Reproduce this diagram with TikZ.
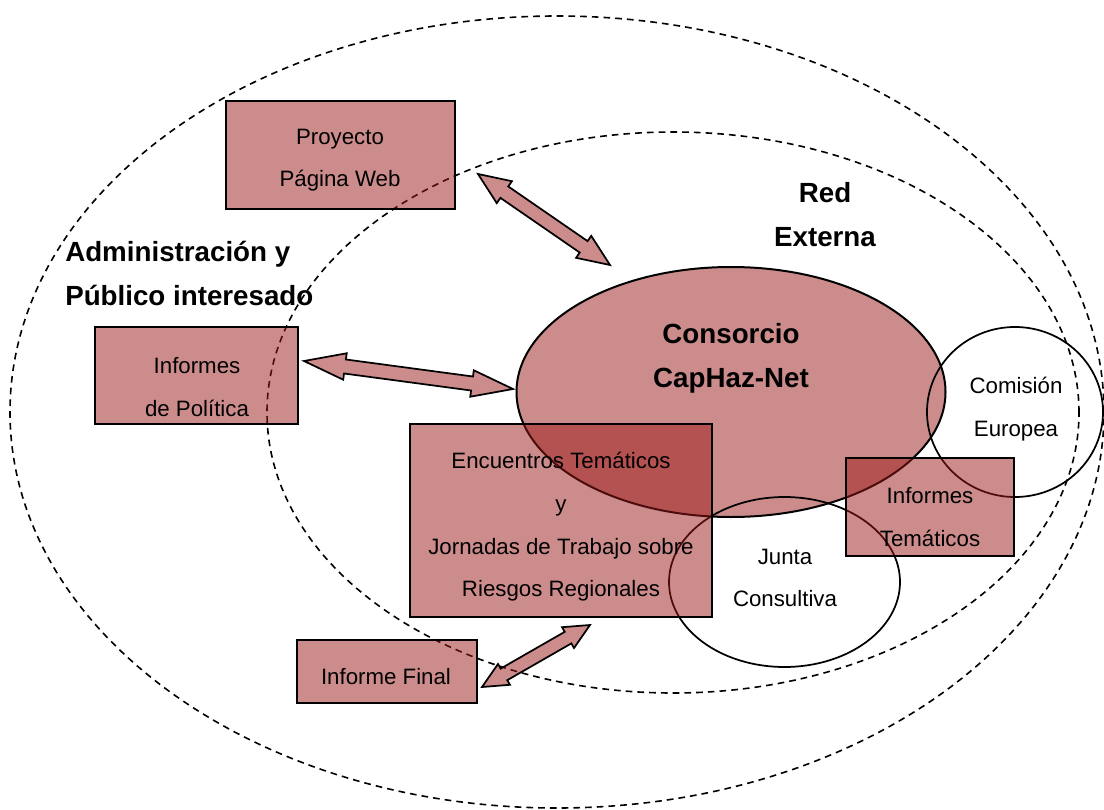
\documentclass[tikz,border=0pt]{standalone}
\usepackage{fontspec}
\setmainfont{Liberation Sans}
\usetikzlibrary{calc,shapes.geometric}
\definecolor{boxred}{RGB}{155,25,25}
\tikzset{
  boxsty/.style={rectangle, draw=black, line width=1.5pt, fill=boxred, fill opacity=0.5, text opacity=1, inner sep=0pt},
  consty/.style={ellipse, draw=black, line width=1.5pt, fill=boxred, fill opacity=0.5, text opacity=1, inner sep=0pt},
  dashsty/.style={ellipse, draw=black, line width=1.2pt, dash pattern=on 5pt off 3.8pt, inner sep=0pt},
  circsty/.style={ellipse, draw=black, line width=1.3pt, inner sep=0pt},
  arrowsty/.style={draw=black, line width=1.3pt, fill=boxred, fill opacity=0.5, line join=miter},
  lbl/.style={align=center, inner sep=0pt, font=\fontsize{16.7}{32}\selectfont},
  blbl/.style={align=center, inner sep=0pt, font=\fontsize{20.8}{33}\selectfont\bfseries},
}
% #1 start, #2 end, #3 head length, #4 head half width, #5 shaft half width
\newcommand{\blockarr}[5]{%
  \coordinate (hA) at ($(#1)!#3!(#2)$);
  \coordinate (hB) at ($(#2)!#3!(#1)$);
  \draw[arrowsty] (#1) -- ($(hA)!#4!90:(#2)$) -- ($(hA)!#5!90:(#2)$)
    -- ($(hB)!#5!-90:(#1)$) -- ($(hB)!#4!-90:(#1)$) -- (#2)
    -- ($(hB)!#4!90:(#1)$) -- ($(hB)!#5!90:(#1)$)
    -- ($(hA)!#5!-90:(#2)$) -- ($(hA)!#4!-90:(#2)$) -- cycle;
}
\begin{document}
\begin{tikzpicture}[x=0.75pt,y=-0.75pt]
\useasboundingbox (0,0) rectangle (1104,810);
% dashed regions
\node[dashsty, minimum width={1094*0.75pt}, minimum height={792*0.75pt}] (outer) at (557,412) {};
\node[dashsty, minimum width={812*0.75pt}, minimum height={561*0.75pt}] (inner) at (673,412.5) {};
% consortium
\node[consty, minimum width={429*0.75pt}, minimum height={250*0.75pt}] (consorcio) at (731,392) {};
% circles
\node[circsty, minimum width={176*0.75pt}, minimum height={170*0.75pt}] (comision) at (1015,412) {};
\node[circsty, minimum width={231*0.75pt}, minimum height={170*0.75pt}] (junta) at (784.5,582) {};
% boxes
\node[boxsty, minimum width={229*0.75pt}, minimum height={108*0.75pt}] (proyecto) at (340.5,155) {};
\node[boxsty, minimum width={203*0.75pt}, minimum height={97*0.75pt}] (politica) at (196.5,375.5) {};
\node[boxsty, minimum width={302*0.75pt}, minimum height={193*0.75pt}] (encuentros) at (561,520.5) {};
\node[boxsty, minimum width={180*0.75pt}, minimum height={63*0.75pt}] (final) at (387,671.5) {};
\node[boxsty, minimum width={168*0.75pt}, minimum height={98*0.75pt}] (tematicos) at (930,507) {};
% arrows
\coordinate (a1s) at (478,174);
\coordinate (a1e) at (610,265);
\coordinate (a2s) at (304,361);
\coordinate (a2e) at (513,389);
\coordinate (a3s) at (482,687);
\coordinate (a3e) at (590,625);
\blockarr{a1s}{a1e}{24pt}{10pt}{5.2pt}
\blockarr{a2s}{a2e}{31pt}{10pt}{5.3pt}
\blockarr{a3s}{a3e}{19pt}{9pt}{5pt}
% labels
\node[lbl] (tproy) at (340,160) {Proyecto\\Página Web};
\node[lbl] (tpol) at (197,387) {Informes\\de Política};
\node[lbl] (tenc) at (561,527) {Encuentros Temáticos\\y\\Jornadas de Trabajo sobre\\Riesgos Regionales};
\node[lbl] (tfin) at (386,677) {Informe Final};
\node[lbl] (ttem) at (930,517) {Informes\\Temáticos};
\node[lbl] (tcom) at (1016,409) {Comisión\\Europea};
\node[lbl] (tjun) at (785,578) {Junta\\Consultiva};
\node[blbl] (tcons) at (731,358) {Consorcio\\CapHaz-Net};
\node[blbl] (tred) at (825,215) {Red\\Externa};
\node[blbl, align=left, anchor=west] (tadm) at (65,273) {Administración y\\Público interesado};
\end{tikzpicture}
\end{document}
